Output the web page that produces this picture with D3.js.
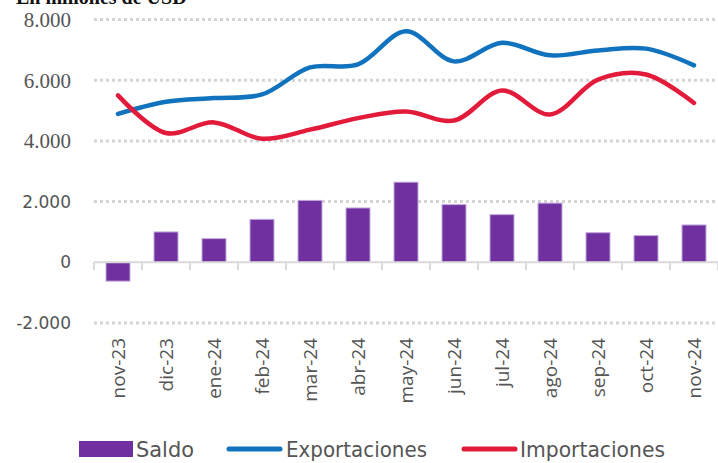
<!DOCTYPE html>
<html><head><meta charset="utf-8">
<script src="https://cdn.jsdelivr.net/npm/d3@7"></script>
<style>body{margin:0;background:#fff}svg{display:block}</style>
</head><body>
<svg id="c" width="718" height="463"></svg>
<script>
const categories = ["nov-23","dic-23","ene-24","feb-24","mar-24","abr-24","may-24","jun-24","jul-24","ago-24","sep-24","oct-24","nov-24"];
const saldo = [-620, 1000, 780, 1415, 2040, 1790, 2640, 1900, 1570, 1950, 975, 880, 1230];
const exportaciones = [4890, 5290, 5410, 5530, 6420, 6520, 7610, 6620, 7230, 6820, 6980, 7040, 6490];
const importaciones = [5500, 4260, 4610, 4070, 4370, 4750, 4970, 4670, 5660, 4870, 6020, 6190, 5250];
const yTicks = [-2000, 0, 2000, 4000, 6000, 8000];
const yTickLabels = ["-2.000", "0", "2.000", "4.000", "6.000", "8.000"];
const legendLabels = ["Saldo", "Exportaciones", "Importaciones"];
const title = "En millones de USD";

const svg = d3.select("#c");
const x = d3.scaleBand().domain(categories).range([94, 718]).paddingInner(0.5).paddingOuter(0.25);
const xb = d3.scaleBand().domain(categories).range([94, 718]);
const y = d3.scaleLinear().domain([-2000, 8000]).range([323, 19.5]);

// title (cropped at top, as in the reference)
svg.append("text").attr("x", 16).attr("y", 4)
  .attr("font-family", "Liberation Serif, serif").attr("font-weight", "bold")
  .attr("font-size", 20).attr("fill", "#111").text(title);

// gridlines
svg.append("g").selectAll("line").data(yTicks.filter(d => d !== 0)).join("line")
  .attr("x1", 94).attr("x2", 718).attr("y1", d => y(d)).attr("y2", d => y(d))
  .attr("stroke", "#d4d4d4").attr("stroke-width", 3).attr("stroke-dasharray", "3,3");

// y labels
svg.append("g").selectAll("text").data(yTicks).join("text")
  .attr("x", 71).attr("y", d => y(d)).attr("dy", "0.35em").attr("text-anchor", "end")
  .attr("font-family", d => d >= 4000 ? "Liberation Serif, serif" : "DejaVu Sans, sans-serif")
  .attr("font-size", d => d >= 4000 ? 21 : 17)
  .attr("fill", "#555")
  .text((d, i) => yTickLabels[i]);

// bars
svg.append("g").selectAll("rect").data(categories).join("rect")
  .attr("x", d => x(d)).attr("width", x.bandwidth())
  .attr("y", (d, i) => y(Math.max(0, saldo[i])))
  .attr("height", (d, i) => Math.abs(y(saldo[i]) - y(0)))
  .attr("fill", "#7030A0").attr("stroke", "#c2a8dc").attr("stroke-width", 1);

// zero axis + ticks
svg.append("line").attr("x1", 94).attr("x2", 718).attr("y1", y(0)).attr("y2", y(0))
  .attr("stroke", "#d9d9d9").attr("stroke-width", 2);
const tickPos = categories.map(d => xb(d)).concat([718]);
svg.append("g").selectAll("line").data(tickPos).join("line")
  .attr("x1", d => d).attr("x2", d => d).attr("y1", y(0)).attr("y2", y(0) + 8)
  .attr("stroke", "#d9d9d9").attr("stroke-width", 2);

// lines
const line = d3.line().x((d, i) => x(categories[i]) + x.bandwidth() / 2).y(d => y(d))
  .curve(d3.curveCatmullRom.alpha(0.5));
svg.append("path").datum(exportaciones).attr("d", line).attr("fill", "none")
  .attr("stroke", "#1172BE").attr("stroke-width", 4.5).attr("stroke-linecap", "round");
svg.append("path").datum(importaciones).attr("d", line).attr("fill", "none")
  .attr("stroke", "#E31B3A").attr("stroke-width", 4.5).attr("stroke-linecap", "round");

// x labels
svg.append("g").selectAll("text").data(categories).join("text")
  .attr("transform", d => `translate(${x(d) + x.bandwidth() / 2 + 7},338) rotate(-90)`)
  .attr("text-anchor", "end")
  .attr("font-family", "Open Sans, sans-serif").attr("font-size", 19).attr("fill", "#555")
  .text(d => d);

// legend
const lg = svg.append("g");
const lf = "Liberation Sans Narrow, DejaVu Sans Condensed, Roboto, sans-serif";
lg.append("rect").attr("x", 79).attr("y", 441).attr("width", 54).attr("height", 16).attr("fill", "#7030A0");
lg.append("text").attr("x", 136).attr("y", 457).attr("font-family", lf).attr("font-size", 22)
  .attr("fill", "#555").attr("textLength", 58).attr("lengthAdjust", "spacingAndGlyphs").text(legendLabels[0]);
lg.append("line").attr("x1", 229).attr("x2", 280).attr("y1", 449).attr("y2", 449)
  .attr("stroke", "#1172BE").attr("stroke-width", 5).attr("stroke-linecap", "round");
lg.append("text").attr("x", 286).attr("y", 457).attr("font-family", lf).attr("font-size", 22)
  .attr("fill", "#555").attr("textLength", 141).attr("lengthAdjust", "spacingAndGlyphs").text(legendLabels[1]);
lg.append("line").attr("x1", 464).attr("x2", 515).attr("y1", 449).attr("y2", 449)
  .attr("stroke", "#E31B3A").attr("stroke-width", 5).attr("stroke-linecap", "round");
lg.append("text").attr("x", 520).attr("y", 457).attr("font-family", lf).attr("font-size", 22)
  .attr("fill", "#555").attr("textLength", 145).attr("lengthAdjust", "spacingAndGlyphs").text(legendLabels[2]);
</script>
</body></html>
